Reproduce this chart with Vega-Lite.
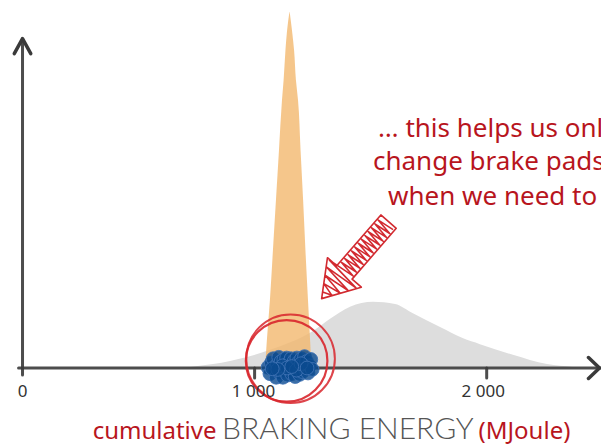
{
  "$schema": "https://vega.github.io/schema/vega-lite/v6.json",
  "width": 601,
  "height": 445,
  "autosize": "none",
  "padding": 0,
  "background": "white",
  "config": {"view": {"stroke": null}},
  "datasets": {
    "gray": [
      {"x": 679, "y": 0},
      {"x": 722, "y": 0.003},
      {"x": 821, "y": 0.011},
      {"x": 894, "y": 0.020},
      {"x": 967, "y": 0.031},
      {"x": 1066, "y": 0.051},
      {"x": 1153, "y": 0.072},
      {"x": 1252, "y": 0.104},
      {"x": 1325, "y": 0.138},
      {"x": 1411, "y": 0.172},
      {"x": 1510, "y": 0.186},
      {"x": 1605, "y": 0.180},
      {"x": 1682, "y": 0.154},
      {"x": 1799, "y": 0.115},
      {"x": 1896, "y": 0.084},
      {"x": 1971, "y": 0.067},
      {"x": 2113, "y": 0.037},
      {"x": 2260, "y": 0.011},
      {"x": 2372, "y": 0.003},
      {"x": 2445, "y": 0}
    ],
    "orange": [
      {"y": 0, "x": 1045, "x2": 1245},
      {"y": 0.079, "x": 1053, "x2": 1239},
      {"y": 0.191, "x": 1066, "x2": 1230},
      {"y": 0.331, "x": 1079, "x2": 1219},
      {"y": 0.472, "x": 1092, "x2": 1209},
      {"y": 0.612, "x": 1105, "x2": 1198},
      {"y": 0.753, "x": 1118, "x2": 1187},
      {"y": 0.809, "x": 1125, "x2": 1178},
      {"y": 0.893, "x": 1133, "x2": 1170},
      {"y": 0.949, "x": 1140, "x2": 1161},
      {"y": 1.0, "x": 1150, "x2": 1151}
    ],
    "points": [
      {"x": 1058, "y": 0.002}, {"x": 1066, "y": -0.016}, {"x": 1072, "y": 0.014},
      {"x": 1080, "y": 0.026}, {"x": 1086, "y": -0.006}, {"x": 1093, "y": -0.026},
      {"x": 1098, "y": 0.010}, {"x": 1104, "y": 0.030}, {"x": 1109, "y": -0.014},
      {"x": 1114, "y": 0.018}, {"x": 1118, "y": 0.000}, {"x": 1122, "y": -0.026},
      {"x": 1126, "y": 0.024}, {"x": 1130, "y": 0.008}, {"x": 1134, "y": -0.010},
      {"x": 1138, "y": 0.028}, {"x": 1142, "y": -0.020}, {"x": 1146, "y": 0.004},
      {"x": 1150, "y": 0.016}, {"x": 1153, "y": -0.006}, {"x": 1157, "y": 0.026},
      {"x": 1160, "y": -0.016}, {"x": 1164, "y": 0.010}, {"x": 1168, "y": 0.000},
      {"x": 1171, "y": 0.020}, {"x": 1175, "y": -0.024}, {"x": 1178, "y": 0.008},
      {"x": 1182, "y": 0.028}, {"x": 1186, "y": -0.008}, {"x": 1190, "y": 0.016},
      {"x": 1194, "y": -0.018}, {"x": 1198, "y": 0.002}, {"x": 1202, "y": 0.026},
      {"x": 1206, "y": -0.010}, {"x": 1210, "y": 0.012}, {"x": 1215, "y": 0.032},
      {"x": 1219, "y": -0.004}, {"x": 1224, "y": 0.018}, {"x": 1230, "y": -0.014},
      {"x": 1236, "y": 0.006}, {"x": 1242, "y": 0.024}, {"x": 1248, "y": -0.004},
      {"x": 1120, "y": 0.006}, {"x": 1140, "y": 0.000}, {"x": 1180, "y": -0.006},
      {"x": 1200, "y": 0.012}, {"x": 1160, "y": 0.004}, {"x": 1100, "y": -0.004},
      {"x": 1226, "y": 0.000}, {"x": 1076, "y": -0.002}
    ],
    "axes": [
      {"x": -17, "x2": 2490, "y": 0, "y2": 0},
      {"x": 0, "x2": 0, "y": -0.02, "y2": 0.925},
      {"x": 1000, "x2": 1000, "y": 0, "y2": -0.028},
      {"x": 2000, "x2": 2000, "y": 0, "y2": -0.028}
    ],
    "ticklabels": [
      {"x": 0, "y": -0.081, "label": "0"},
      {"x": 995, "y": -0.081, "label": "1 000"},
      {"x": 1985, "y": -0.081, "label": "2 000"}
    ],
    "note": [
      {"x": 1532, "y": 0.649, "label": "… this helps us only"},
      {"x": 1510, "y": 0.556, "label": "change brake pads"},
      {"x": 1575, "y": 0.458, "label": "when we need to"}
    ]
  },
  "encoding": {
    "x": {"field": "x", "type": "quantitative", "scale": {"domain": [-97, 2492.5], "nice": false, "zero": false}, "axis": null},
    "y": {"field": "y", "type": "quantitative", "scale": {"domain": [-0.2163, 1.0337], "nice": false, "zero": false}, "axis": null}
  },
  "layer": [
    {
      "data": {"name": "gray"},
      "mark": {"type": "area", "interpolate": "monotone", "color": "#dddddd"}
    },
    {
      "data": {"name": "orange"},
      "mark": {"type": "area", "orient": "horizontal", "interpolate": "monotone", "color": "#f2b86e", "opacity": 0.8},
      "encoding": {"x2": {"field": "x2"}}
    },
    {
      "data": {"name": "axes"},
      "mark": {"type": "rule", "color": "#3a3a3a", "strokeWidth": 3, "strokeCap": "round", "opacity": 0.9},
      "encoding": {"x2": {"field": "x2"}, "y2": {"field": "y2"}}
    },
    {
      "data": {"values": [{"x": 0, "y": 0.925}]},
      "mark": {"type": "point", "shape": "M-0.55,1L0,0L0.55,1", "size": 900, "filled": false, "stroke": "#3a3a3a", "strokeWidth": 3.5, "strokeCap": "round", "strokeJoin": "round", "opacity": 1}
    },
    {
      "data": {"values": [{"x": 2486, "y": 0}]},
      "mark": {"type": "point", "shape": "M-1,-0.95L0,0L-1,0.95", "size": 484, "filled": false, "stroke": "#3a3a3a", "strokeWidth": 3.5, "strokeCap": "round", "strokeJoin": "round", "opacity": 1}
    },
    {
      "data": {"name": "points"},
      "mark": {"type": "point", "shape": "circle", "filled": true, "size": 190, "fill": "#0a4a8e", "fillOpacity": 0.8, "stroke": "#3f72b4", "strokeWidth": 1, "strokeOpacity": 0.9}
    },
    {
      "data": {"values": [{"x": 1138, "y": 0.02}]},
      "mark": {"type": "point", "shape": "circle", "size": 6650, "filled": false, "stroke": "#d9262d", "strokeWidth": 2.2, "opacity": 0.9}
    },
    {
      "data": {"values": [{"x": 1155, "y": 0.026}]},
      "mark": {"type": "point", "shape": "circle", "size": 7850, "filled": false, "stroke": "#d9262d", "strokeWidth": 2, "opacity": 0.85}
    },
    {
      "data": {"values": [{"x": 1433, "y": 0.303}]},
      "mark": {"type": "point", "angle": 131, "size": 10400, "filled": false, "stroke": "#d22a30", "strokeWidth": 1.6, "strokeJoin": "round", "opacity": 1,
        "shape": "M1,0L0.32,-0.44L0.32,-0.2L-1,-0.2L-1,0.2L0.32,0.2L0.32,0.44Z M-0.94,-0.17L-0.89,0.17L-0.84,-0.17L-0.79,0.17L-0.74,-0.17L-0.69,0.17L-0.64,-0.17L-0.59,0.17L-0.54,-0.17L-0.49,0.17L-0.44,-0.17L-0.39,0.17L-0.34,-0.17L-0.29,0.17L-0.24,-0.17L-0.19,0.17L-0.14,-0.17L-0.09,0.17L-0.04,-0.17L0.01,0.17L0.06,-0.17L0.11,0.17L0.16,-0.17L0.21,0.17L0.26,-0.17L0.33,0.38L0.4,-0.37L0.47,0.33L0.54,-0.29L0.61,0.25L0.68,-0.2L0.75,0.16L0.82,-0.11L0.89,0.07"}
    },
    {
      "data": {"name": "ticklabels"},
      "mark": {"type": "text", "font": "Noto Sans", "fontSize": 17, "color": "#333333", "align": "center", "baseline": "alphabetic"},
      "encoding": {"text": {"field": "label"}}
    },
    {
      "data": {"name": "note"},
      "mark": {"type": "text", "font": "Noto Sans", "fontSize": 26, "color": "#b8151d", "align": "left", "baseline": "alphabetic"},
      "encoding": {"text": {"field": "label"}}
    },
    {
      "data": {"values": [{"x": 836, "y": -0.2, "label": "cumulative"}]},
      "mark": {"type": "text", "font": "Noto Sans", "fontSize": 24, "color": "#b8151d", "align": "right", "baseline": "alphabetic"},
      "encoding": {"text": {"field": "label"}}
    },
    {
      "data": {"values": [{"x": 1402, "y": -0.2, "label": "BRAKING ENERGY"}]},
      "mark": {"type": "text", "font": "Lato", "fontWeight": 300, "fontSize": 30, "color": "#555555", "align": "center", "baseline": "alphabetic"},
      "encoding": {"text": {"field": "label"}}
    },
    {
      "data": {"values": [{"x": 1965, "y": -0.2, "label": "(MJoule)"}]},
      "mark": {"type": "text", "font": "Noto Sans", "fontSize": 24, "color": "#b8151d", "align": "left", "baseline": "alphabetic"},
      "encoding": {"text": {"field": "label"}}
    }
  ]
}
